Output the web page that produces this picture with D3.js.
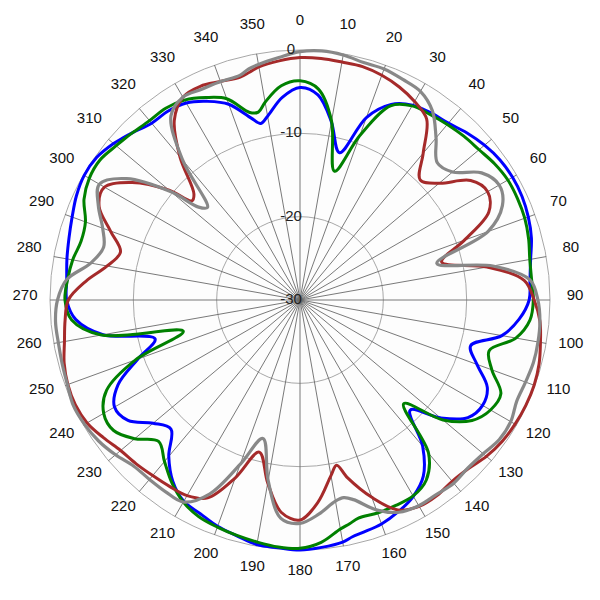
<!DOCTYPE html>
<html>
<head>
<meta charset="utf-8">
<script src="https://cdn.jsdelivr.net/npm/d3@7"></script>
<style>
  html, body { margin: 0; padding: 0; background: #ffffff; }
  svg { display: block; }
  text { font-family: "Liberation Sans", Arial, sans-serif; }
</style>
</head>
<body>
<script>
// ---- data ----
const angles = [0,5,10,15,20,25,30,35,40,45,50,55,60,65,70,75,80,85,90,95,100,105,110,115,120,125,130,135,140,145,150,155,160,165,167.5,170,175,180,185,190,195,200,205,210,215,220,225,230,235,240,245,250,255,260,265,270,275,280,285,290,295,300,305,310,312.5,315,320,325,330,335,340,345,347.5,350,355];

const blueValues = [-4.5,-5.3,-8.3,-11.7,-6.7,-4.1,-3.0,-2.6,-2.3,-1.65,-1.1,-0.7,-0.55,-0.6,-0.85,-1.25,-1.9,-2.3,-2.5,-3.6,-5.4,-8.8,-7.4,-5.2,-4.7,-5.4,-8.0,-11.3,-7.1,-4.2,-2.8,-2.0,-1.4,-1.1,-0.9,-0.5,-0.2,0,-0.15,-0.2,-0.7,-1.1,-1.7,-2.1,-3.4,-5.5,-8.1,-7.0,-4.8,-4.3,-5.9,-9.3,-12.0,-6.0,-3.0,-2.0,-1.9,-1.6,-1.3,-0.9,-0.4,-0.1,-0.2,-0.8,-1.2,-1.6,-2.3,-2.35,-2.7,-3.7,-5.0,-7.4,-8.3,-7.6,-5.6];

const greenValues = [-3.7,-4.6,-8.2,-14.0,-9.0,-4.3,-3.1,-2.8,-2.5,-2.2,-1.95,-1.5,-1.2,-1.2,-1.3,-1.6,-2.0,-2.1,-2.0,-2.3,-3.7,-6.5,-5.5,-3.4,-3.6,-4.8,-7.6,-12.4,-6.0,-3.6,-2.85,-2.8,-2.8,-2.9,-2.5,-2.1,-0.8,-0.2,-0.25,-0.5,-0.75,-1.0,-1.3,-2.0,-3.2,-4.7,-6.0,-4.1,-2.7,-2.8,-4.4,-9.0,-15.5,-5.8,-2.5,-1.8,-2.0,-2.3,-2.8,-2.6,-1.4,-0.8,-0.7,-1.2,-1.4,-1.6,-1.9,-1.9,-2.3,-3.2,-4.3,-6.7,-6.9,-5.9,-4.2];

const redValues = [-0.9,-0.9,-1.0,-1.0,-1.3,-1.8,-2.5,-3.5,-7.0,-9.6,-8.2,-5.0,-4.0,-5.0,-9.0,-12.4,-7.2,-3.0,-1.9,-1.1,-0.7,-0.3,-0.1,-0.1,-0.2,-0.4,-0.8,-1.4,-1.6,-1.35,-1.4,-2.2,-4.8,-7.9,-9.7,-8.6,-5.6,-3.6,-4.4,-7.7,-11.1,-7.3,-3.8,-2.9,-2.7,-2.5,-2.2,-1.9,-1.2,-0.5,-0.25,-0.35,-0.7,-1.3,-1.7,-2.2,-4.2,-6.5,-7.7,-5.8,-3.4,-2.9,-5.4,-9.5,-12.4,-12.0,-7.6,-3.7,-1.9,-1.7,-2.1,-2.3,-2.0,-1.6,-1.2];

const greyValues = [-0.2,0,-0.15,-0.5,-0.5,-0.8,-1.1,-2.3,-4.6,-6.7,-6.1,-3.4,-2.4,-3.2,-6.0,-13.0,-6.5,-2.3,-1.45,-1.1,-1.0,-1.0,-1.2,-1.3,-0.8,-0.8,-1.3,-1.5,-1.3,-1.5,-1.5,-1.9,-3.2,-5.2,-5.7,-5.5,-4.2,-3.2,-3.7,-8.0,-12.8,-9.0,-4.3,-2.0,-1.9,-1.9,-1.8,-1.1,-0.5,-0.15,0,-0.3,-0.45,-0.55,-0.55,-0.9,-1.9,-4.5,-5.6,-4.8,-3.3,-2.2,-4.6,-9.8,-13.5,-14.3,-8.1,-3.0,-1.9,-2.1,-2.1,-2.1,-1.6,-1.3,-0.8];

const seriesNames = ["blue", "green", "red", "grey"];
const seriesColors = ["#0000ff", "#008000", "#a52a2a", "#888888"];
const seriesValues = [blueValues, greenValues, redValues, greyValues];

const radialTicks = [-30, -20, -10, 0];
const angleTicks = d3.range(0, 360, 10);

// ---- layout ----
const W = 600, H = 600, cx = 300, cy = 300, R = 250;

const svg = d3.select("body").append("svg")
  .attr("width", W).attr("height", H);

const g = svg.append("g").attr("transform", `translate(${cx},${cy})`);

const rScale = d3.scaleLinear().domain([-30, 0]).range([0, R]);
const aScale = d3.scaleLinear().domain([0, 360]).range([0, 2 * Math.PI]);

// background disk
g.append("circle").attr("r", rScale(0)).attr("fill", "#fdfdfd");

// rings
g.selectAll("circle.ring").data(radialTicks.filter(d => d > -30)).enter()
  .append("circle").attr("class", "ring")
  .attr("r", d => rScale(d))
  .attr("fill", "none")
  .attr("stroke", "#a8a8a8")
  .attr("stroke-width", 1);

// spokes
g.selectAll("line.spoke").data(angleTicks).enter()
  .append("line").attr("class", "spoke")
  .attr("x1", 0).attr("y1", 0)
  .attr("x2", d => rScale(0) * Math.sin(aScale(d)))
  .attr("y2", d => -rScale(0) * Math.cos(aScale(d)))
  .attr("stroke", "#6a6a6a")
  .attr("stroke-width", 0.9);

// angle labels
const labelR = 275;
g.selectAll("text.alabel").data(angleTicks).enter()
  .append("text").attr("class", "alabel")
  .attr("x", d => labelR * Math.sin(aScale(d)))
  .attr("y", d => -labelR * Math.cos(aScale(d)))
  .attr("text-anchor", "middle")
  .attr("font-size", 15)
  .attr("fill", "#111")
  .text(d => d);

// curves
const line = d3.lineRadial()
  .angle(d => aScale(d[0]))
  .radius(d => rScale(d[1]))
  .curve(d3.curveCatmullRomClosed.alpha(0.5));

seriesValues.forEach((vals, i) => {
  const pts = angles.map((a, k) => [a, vals[k]]);
  g.append("path")
    .attr("class", "series " + seriesNames[i])
    .attr("d", line(pts))
    .attr("fill", "none")
    .attr("stroke", seriesColors[i])
    .attr("stroke-width", i === 3 ? 3.2 : 3)
    .attr("stroke-linejoin", "round");
});

// radial labels
g.selectAll("text.rlabel").data(radialTicks).enter()
  .append("text").attr("class", "rlabel")
  .attr("x", -9)
  .attr("y", d => -rScale(d) + 4)
  .attr("text-anchor", "middle")
  .attr("font-size", 15)
  .attr("fill", "#222")
  .text(d => d);
</script>
</body>
</html>
